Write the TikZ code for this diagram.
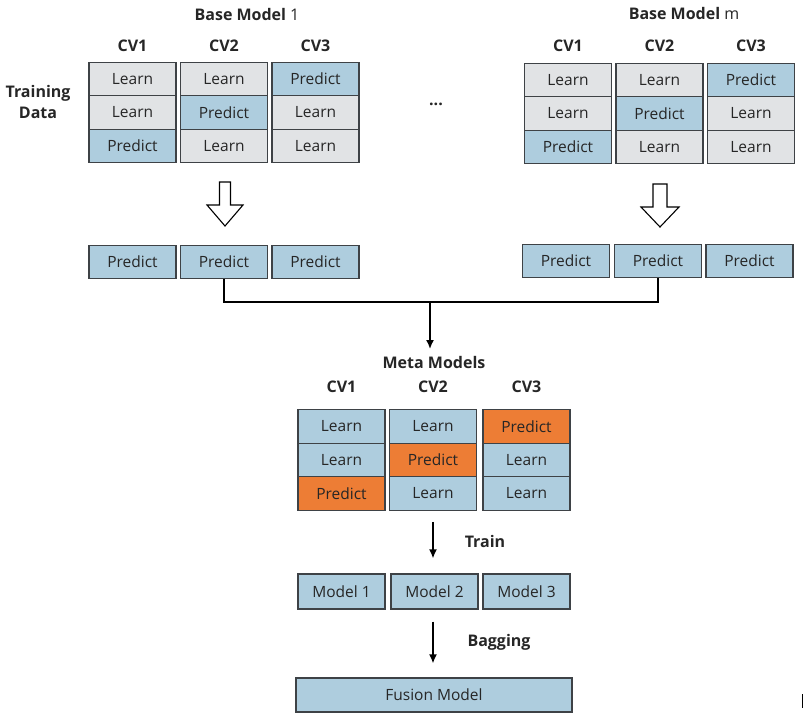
\documentclass[tikz,border=0pt]{standalone}
\usepackage{fontspec}
\setmainfont{Open Sans}
\usetikzlibrary{arrows.meta}
\definecolor{cgrey}{RGB}{225,227,229}
\definecolor{cblue}{RGB}{174,205,222}
\definecolor{corange}{RGB}{237,125,53}
\definecolor{cborder}{RGB}{62,66,70}
\definecolor{ctext}{RGB}{38,38,38}
\tikzset{
  cell/.style={draw=cborder, line width=1.2pt, minimum width=87pt, minimum height=33.5pt, inner sep=0pt, text=ctext, font=\fontsize{15.5}{17}\selectfont},
  gcell/.style={cell, fill=cgrey},
  bcell/.style={cell, fill=cblue},
  ocell/.style={cell, fill=corange},
  head/.style={text=ctext, font=\fontsize{16}{18}\selectfont\bfseries, inner sep=0pt},
  conn/.style={line width=1.3pt, black},
  arr/.style={line width=1.6pt, black, -{Latex[length=9pt,width=8pt]}},
  hollow/.style={draw=black, line width=1.1pt, fill=white, line join=miter}
}
\begin{document}
\begin{tikzpicture}[x=1pt,y=-1pt]
\useasboundingbox (0,0) rectangle (803,717);
% Base Model 1
\node[head] (bm1) at (247,15) {Base Model \mdseries 1};
\node[head] (c11) at (132.5,46) {CV1};
\node[head] (c12) at (224,46) {CV2};
\node[head] (c13) at (315.5,46) {CV3};
\node[head, align=center, font=\fontsize{16}{21}\selectfont\bfseries] (td) at (38,102) {Training\\Data};
\node[gcell] (a11) at (132.5,79) {Learn};
\node[gcell] (a12) at (132.5,112.5) {Learn};
\node[bcell] (a13) at (132.5,146) {Predict};
\node[gcell] (a21) at (224,79) {Learn};
\node[bcell] (a22) at (224,112.5) {Predict};
\node[gcell] (a23) at (224,146) {Learn};
\node[bcell] (a31) at (315.5,79) {Predict};
\node[gcell] (a32) at (315.5,112.5) {Learn};
\node[gcell] (a33) at (315.5,146) {Learn};
% dots
\node[head] (dots) at (436,104) {...};
% Base Model m
\node[head] (bmm) at (684,14) {Base Model \mdseries m};
\node[head] (cm1) at (568,46) {CV1};
\node[head] (cm2) at (659.5,46) {CV2};
\node[head] (cm3) at (751,46) {CV3};
\node[gcell] (b11) at (568,80) {Learn};
\node[gcell] (b12) at (568,113.5) {Learn};
\node[bcell] (b13) at (568,147) {Predict};
\node[gcell] (b21) at (659.5,80) {Learn};
\node[bcell] (b22) at (659.5,113.5) {Predict};
\node[gcell] (b23) at (659.5,147) {Learn};
\node[bcell] (b31) at (751,80) {Predict};
\node[gcell] (b32) at (751,113.5) {Learn};
\node[gcell] (b33) at (751,147) {Learn};
% hollow arrows
\draw[hollow] (219.5,182) -- (230.5,182) -- (230.5,205) -- (243,205) -- (225,226) -- (207,205) -- (219.5,205) -- cycle;
\draw[hollow] (653,184) -- (667,184) -- (667,207) -- (679,207) -- (660,227) -- (641,207) -- (653,207) -- cycle;
% predict rows
\node[bcell] (pl1) at (132.5,262) {Predict};
\node[bcell] (pl2) at (224,262) {Predict};
\node[bcell] (pl3) at (315.5,262) {Predict};
\node[bcell] (pr1) at (566,261) {Predict};
\node[bcell] (pr2) at (658,261) {Predict};
\node[bcell] (pr3) at (749.5,261) {Predict};
% connector
\coordinate (jn) at (430,302);
\draw[conn] (pl2.south) |- (jn) -| (pr2.south);
% Meta models
\node[head] (mm) at (434,362) {Meta Models};
\draw[arr] (jn) -- (430,349);
\node[head] (mc1) at (341.5,387) {CV1};
\node[head] (mc2) at (433,387) {CV2};
\node[head] (mc3) at (526.5,387) {CV3};
\node[bcell] (m11) at (341.5,426.5) {Learn};
\node[bcell] (m12) at (341.5,460) {Learn};
\node[ocell] (m13) at (341.5,493.5) {Predict};
\node[bcell] (m21) at (433,426.5) {Learn};
\node[ocell] (m22) at (433,460) {Predict};
\node[bcell] (m23) at (433,493.5) {Learn};
\node[ocell] (m31) at (526.5,426.5) {Predict};
\node[bcell] (m32) at (526.5,460) {Learn};
\node[bcell] (m33) at (526.5,493.5) {Learn};
% models
\node[bcell, minimum height=35pt] (md1) at (341.5,591.5) {Model 1};
\node[bcell, minimum height=35pt] (md2) at (434.5,591.5) {Model 2};
\node[bcell, minimum height=35pt] (md3) at (526.5,591.5) {Model 3};
\draw[arr, shorten <=11pt, shorten >=15pt] (m23.south) -- (m23.south |- md2.north);
\node[head] (train) at (485,541) {Train};
% fusion
\node[bcell, minimum width=276pt, minimum height=34pt] (fus) at (434,695) {Fusion Model};
\draw[arr, shorten <=12pt, shorten >=14pt] (m23.south |- md2.south) -- (m23.south |- fus.north);
\node[head] (bag) at (499,642) {Bagging};
% edge artifact
\fill[black] (801.5,694) rectangle (803,708);
\end{tikzpicture}
\end{document}
